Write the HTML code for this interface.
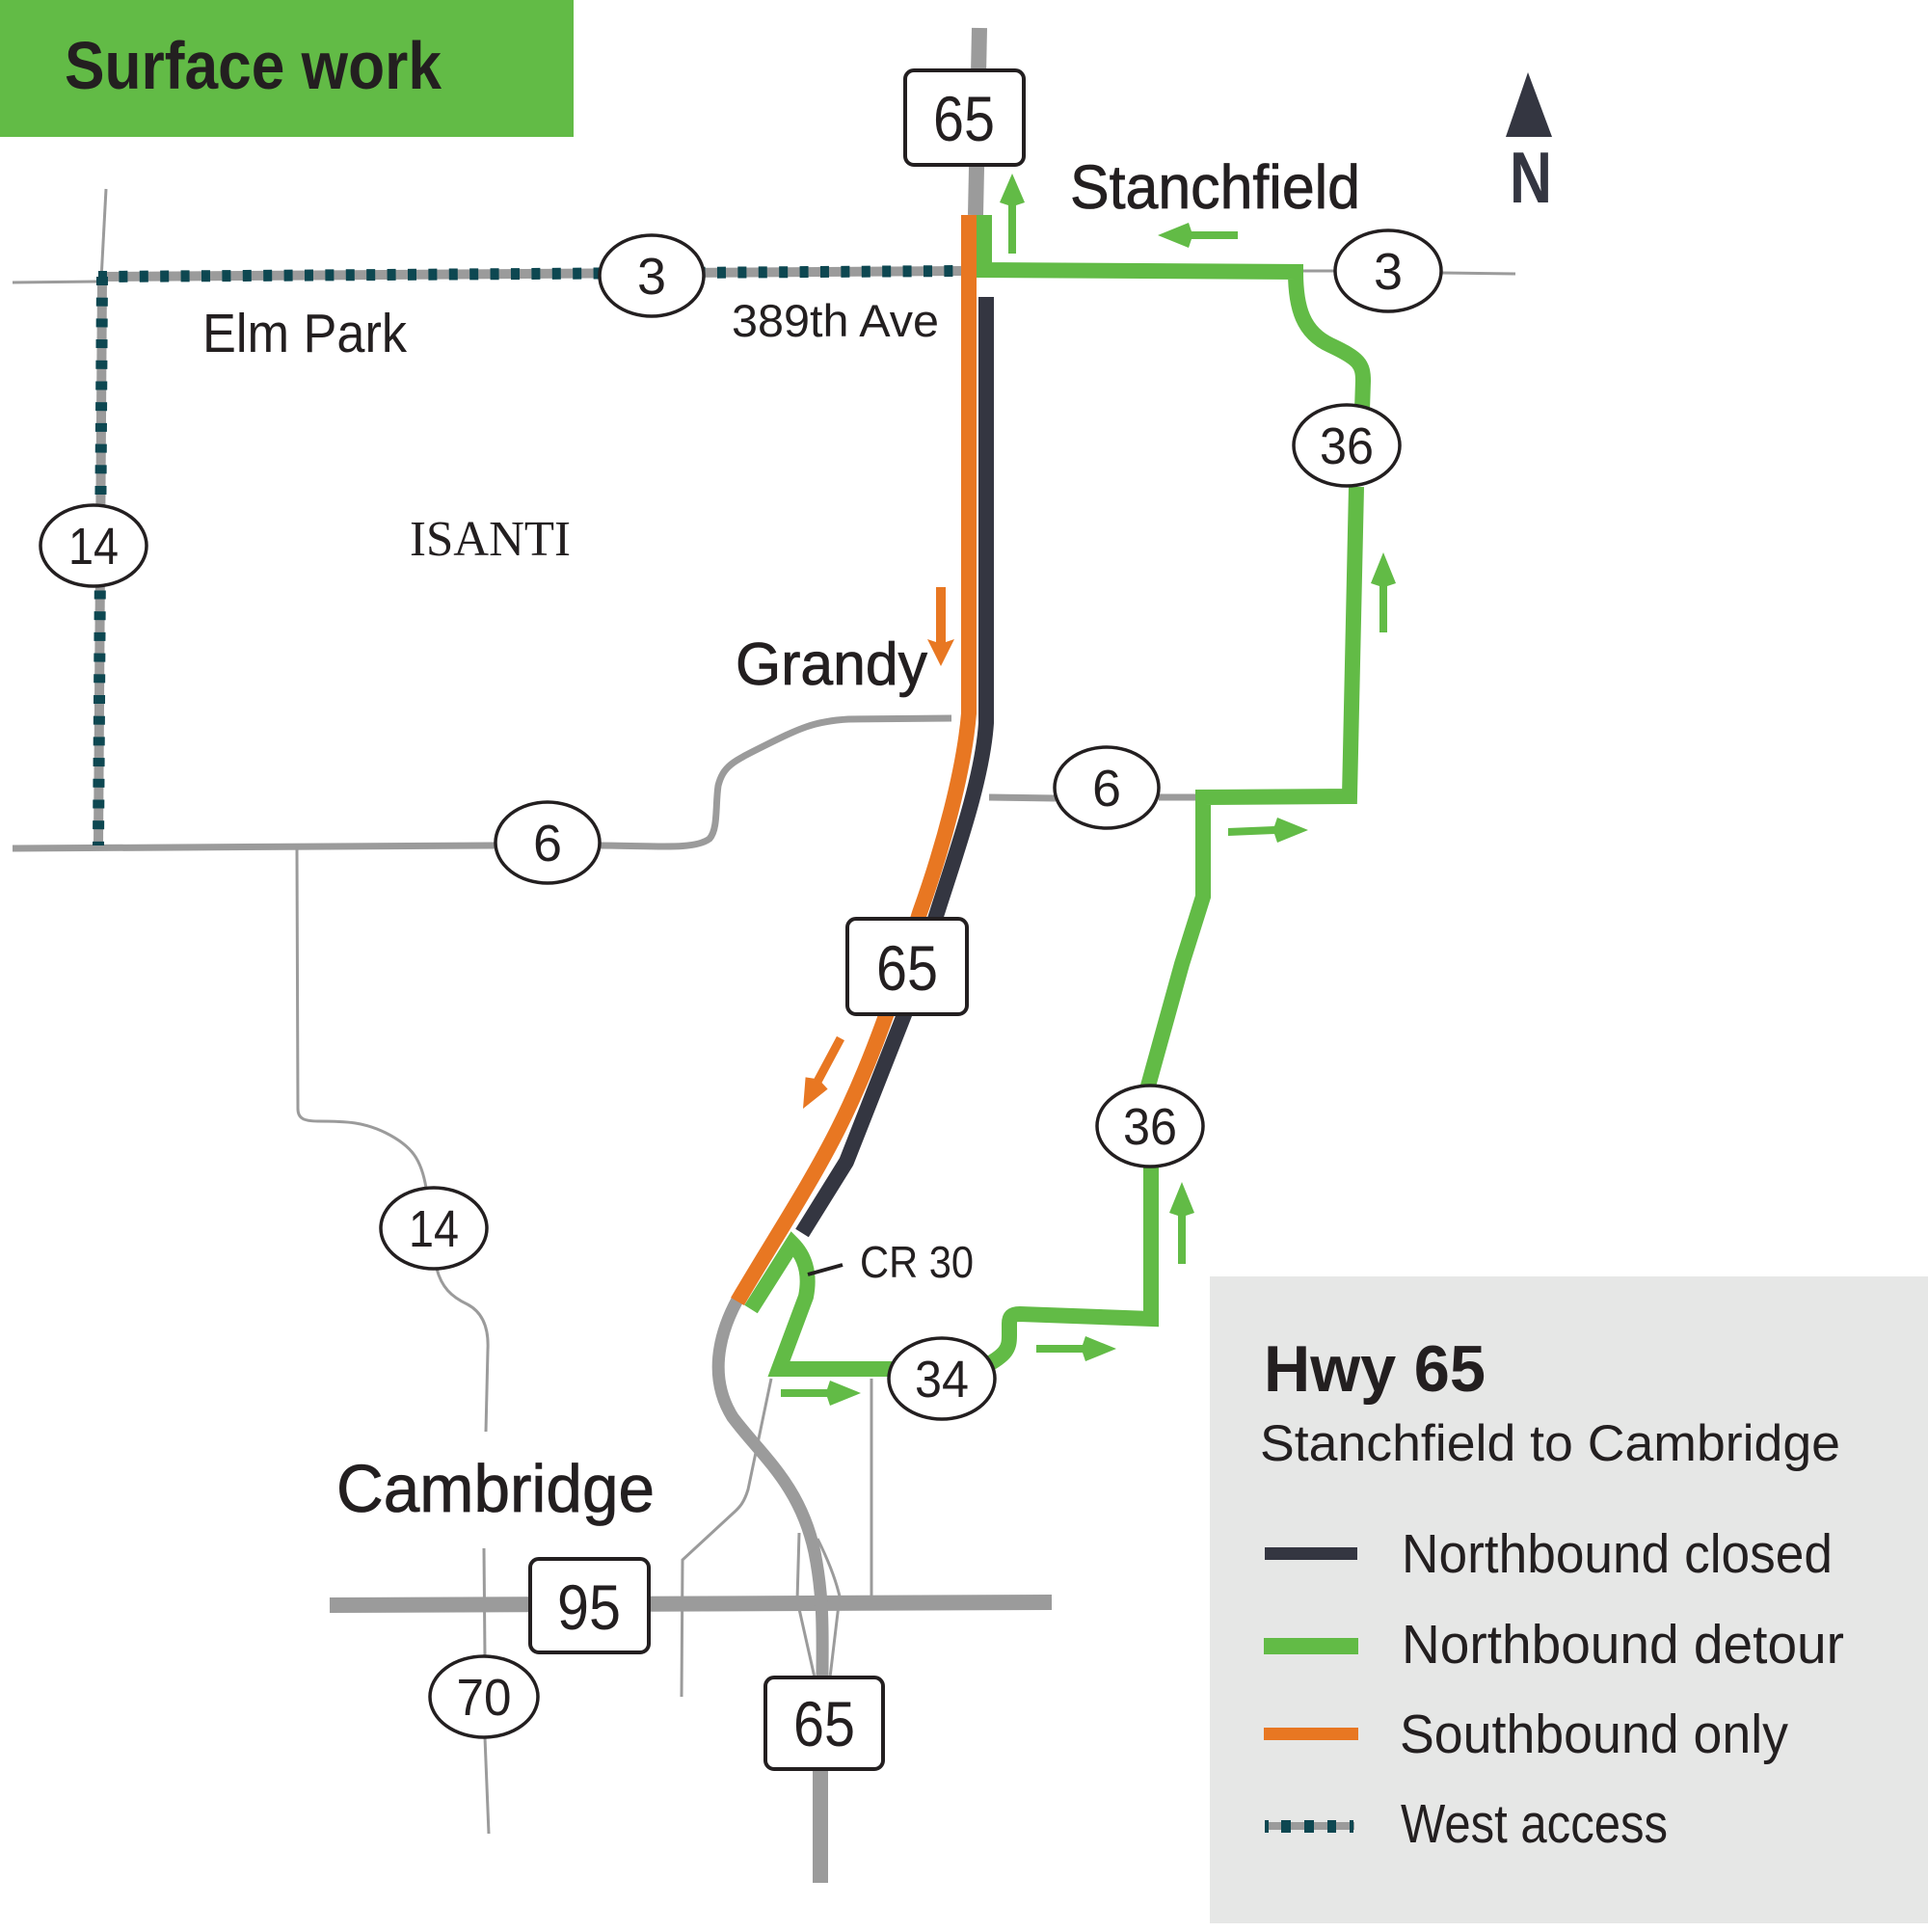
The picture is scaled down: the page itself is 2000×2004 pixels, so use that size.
<!DOCTYPE html>
<html><head><meta charset="utf-8"><style>
html,body{margin:0;padding:0;background:#fff;}
svg{display:block;}
text{font-family:"Liberation Sans",sans-serif;fill:#231f20;}
</style></head><body>
<svg width="2000" height="2004" viewBox="0 0 2000 2004" xmlns="http://www.w3.org/2000/svg">
<rect width="2000" height="2004" fill="#fff"/>

<!-- header -->
<rect x="0" y="0" width="595" height="142" fill="#62bb46"/>
<text x="67" y="92" font-size="70" font-weight="bold" textLength="391" lengthAdjust="spacingAndGlyphs">Surface work</text>

<!-- legend background -->
<rect x="1255" y="1324" width="745" height="671" fill="#e6e7e6"/>

<!-- thin gray roads -->
<g fill="none" stroke="#9b9b9b" stroke-width="3">
  <path d="M110 196 L105 290"/>
  <path d="M13 293 L102 292"/>
  <path d="M308 880 L309 1150 C309 1160 315 1163 330 1163 C360 1163 378 1164 400 1175 C428 1189 437 1203 442 1232"/>
  <path d="M453 1316 C458 1335 468 1345 485 1353 C502 1362 507 1380 506 1400 L504 1485"/>
  <path d="M502 1606 L503 1718"/>
  <path d="M503 1802 L507 1902"/>
  <path d="M800 1430 L776 1545 C772 1558 768 1563 760 1570 L708 1618 L707 1760"/>
  <path d="M829 1590 L827 1660 L845 1740"/>
  <path d="M848 1596 Q865 1630 871 1656 L861 1740"/>
  <path d="M904 1430 L904 1662"/>
  <path d="M1348 281 L1385 281"/>
  <path d="M1495 283 L1572 284"/>
</g>

<!-- medium gray roads -->
<g fill="none" stroke="#9b9b9b" stroke-width="7">
  <path d="M13 880 L513 877"/>
  <path d="M622 877 C680 877 720 882 736 870 C745 860 742 835 745 815 C750 795 760 790 790 775 C830 755 845 748 880 746 L987 745"/>
  <path d="M1026 827 L1095 828"/>
  <path d="M1202 827 L1248 827"/>
</g>

<!-- thick gray highways -->
<g fill="none" stroke="#9b9b9b">
  <path d="M1016 29 L1012 223" stroke-width="16"/>
  <path d="M342 1665 L1091 1662" stroke-width="16"/>
  <path d="M851 1835 L851 1953" stroke-width="16"/>
  <path d="M765 1348 C745 1385 735 1430 760 1470 C790 1510 830 1540 845 1610 C855 1660 853 1700 853 1740" stroke-width="13"/>
</g>

<!-- west access dotted -->
<g fill="none">
  <path d="M102 287 L997 281" stroke="#9b9b9b" stroke-width="10"/>
  <path d="M102 287 L997 281" stroke="#0d4751" stroke-width="12" stroke-dasharray="9 12.4"/>
  <path d="M106 287 L102 877" stroke="#9b9b9b" stroke-width="10"/>
  <path d="M106 287 L102 877" stroke="#0d4751" stroke-width="12" stroke-dasharray="9 12.7"/>
</g>

<!-- northbound closed -->
<path d="M1023 308 L1023 750 C1019 810 990 890 972 947 L939 1050 L878 1205 L832 1279" fill="none" stroke="#343641" stroke-width="16" stroke-linejoin="round"/>

<!-- southbound only -->
<path d="M1005 223 L1005 740 C1000 800 978 880 954 947 C930 1025 905 1100 870 1170 C840 1230 800 1290 765 1350" fill="none" stroke="#e87722" stroke-width="16"/>

<!-- northbound detour -->
<g fill="none" stroke="#62bb46" stroke-width="16">
  <path d="M779 1358 L822 1290 C834 1302 841 1320 836 1345 L808 1420 L925 1420" stroke-linejoin="miter"/>
  <path d="M1020 1418 C1045 1405 1047 1398 1047 1385 L1047 1373 C1047 1365 1050 1363 1058 1363 L1194 1368 L1194 1210" stroke-linejoin="miter"/>
  <path d="M1190 1130 L1226 1000 L1248 930 L1248 827 L1400 826 L1407 505" stroke-linejoin="miter"/>
  <path d="M1413 425 L1414 395 C1414 378 1410 372 1380 358 C1352 345 1344 320 1344 282 L1021 280 L1021 223" stroke-linejoin="miter"/>
</g>

<!-- arrows -->
<g fill="#62bb46">
  <polygon points="1050,180 1063,210 1054,213 1054,263 1046,263 1046,213 1037,210"/>
  <polygon points="1435,573 1448,605 1439,608 1439,656 1431,656 1431,608 1422,605"/>
  <polygon points="1226,1226 1239,1258 1230,1261 1230,1311 1222,1311 1222,1261 1213,1258"/>
  <polygon points="1201,244 1233,231 1236,240 1284,240 1284,248 1236,248 1233,257"/>
  <polygon points="1357,861 1325,848 1322,857 1274,859 1274,867 1322,865 1325,874"/>
  <polygon points="1158,1399 1126,1386 1123,1395 1075,1395 1075,1403 1123,1403 1126,1412"/>
  <polygon points="893,1445 861,1432 858,1441 810,1441 810,1449 858,1449 861,1458"/>
</g>
<g fill="#e87722">
  <polygon points="976,691 990,663 981,666 981,609 971,609 971,666 962,663"/>
  <polygon points="833,1150 858.6,1129.6 852.5,1123 876,1079.1 868,1074.9 844.5,1118.8 835.6,1117.4"/>
</g>

<!-- CR 30 leader -->
<path d="M838 1322 L874 1312" stroke="#231f20" stroke-width="4"/>

<!-- circle shields -->
<g fill="#fff" stroke="#231f20" stroke-width="3.5">
  <ellipse cx="676" cy="286" rx="54" ry="42"/>
  <ellipse cx="1440" cy="281" rx="55" ry="42"/>
  <ellipse cx="97" cy="566" rx="55" ry="42"/>
  <ellipse cx="1397" cy="462" rx="55" ry="42"/>
  <ellipse cx="568" cy="874" rx="54" ry="42"/>
  <ellipse cx="1148" cy="817" rx="54" ry="42"/>
  <ellipse cx="1193" cy="1168" rx="55" ry="42"/>
  <ellipse cx="450" cy="1274" rx="55" ry="42"/>
  <ellipse cx="977" cy="1430" rx="55" ry="42"/>
  <ellipse cx="502" cy="1760" rx="56" ry="42"/>
</g>
<g font-size="54" text-anchor="middle">
  <text x="676" y="305">3</text>
  <text x="1440" y="300">3</text>
  <text x="97" y="585" textLength="52" lengthAdjust="spacingAndGlyphs">14</text>
  <text x="1397" y="481" textLength="56" lengthAdjust="spacingAndGlyphs">36</text>
  <text x="568" y="893">6</text>
  <text x="1148" y="836">6</text>
  <text x="1193" y="1187" textLength="56" lengthAdjust="spacingAndGlyphs">36</text>
  <text x="450" y="1293" textLength="52" lengthAdjust="spacingAndGlyphs">14</text>
  <text x="977" y="1449" textLength="56" lengthAdjust="spacingAndGlyphs">34</text>
  <text x="502" y="1779" textLength="57" lengthAdjust="spacingAndGlyphs">70</text>
</g>

<!-- box shields -->
<g fill="#fff" stroke="#231f20" stroke-width="4">
  <rect x="939" y="73" width="123" height="98" rx="9"/>
  <rect x="879" y="953" width="124" height="99" rx="9"/>
  <rect x="550" y="1617" width="123" height="97" rx="9"/>
  <rect x="794" y="1740" width="122" height="95" rx="9"/>
</g>
<g font-size="66" text-anchor="middle">
  <text x="1000" y="146" textLength="64" lengthAdjust="spacingAndGlyphs">65</text>
  <text x="941" y="1027" textLength="64" lengthAdjust="spacingAndGlyphs">65</text>
  <text x="611" y="1690" textLength="66" lengthAdjust="spacingAndGlyphs">95</text>
  <text x="855" y="1811" textLength="64" lengthAdjust="spacingAndGlyphs">65</text>
</g>

<!-- north arrow -->
<polygon points="1585,75 1610,142 1562,142" fill="#343641"/>
<text x="1566" y="210" font-size="75" font-weight="bold" style="fill:#343641" textLength="44" lengthAdjust="spacingAndGlyphs">N</text>

<!-- place labels -->
<text x="210" y="365" font-size="57" textLength="212" lengthAdjust="spacingAndGlyphs">Elm Park</text>
<text x="759" y="349" font-size="47" textLength="215" lengthAdjust="spacingAndGlyphs">389th Ave</text>
<text x="425" y="576" font-size="52" textLength="167" lengthAdjust="spacingAndGlyphs" style="font-family:'Liberation Serif',serif">ISANTI</text>
<text x="763" y="710" font-size="62" stroke="#231f20" stroke-width="0.8" textLength="199" lengthAdjust="spacingAndGlyphs">Grandy</text>
<text x="1110" y="216" font-size="64" stroke="#231f20" stroke-width="0.8" textLength="301" lengthAdjust="spacingAndGlyphs">Stanchfield</text>
<text x="892" y="1325" font-size="46" textLength="118" lengthAdjust="spacingAndGlyphs">CR 30</text>
<text x="349" y="1568" font-size="70" stroke="#231f20" stroke-width="0.8" textLength="330" lengthAdjust="spacingAndGlyphs">Cambridge</text>

<!-- legend -->
<text x="1311" y="1443" font-size="68" font-weight="bold" textLength="230" lengthAdjust="spacingAndGlyphs">Hwy 65</text>
<text x="1307" y="1515" font-size="53" textLength="602" lengthAdjust="spacingAndGlyphs">Stanchfield to Cambridge</text>

<rect x="1312" y="1605" width="96" height="13" fill="#343641"/>
<rect x="1311" y="1699" width="98" height="17" fill="#62bb46"/>
<rect x="1311" y="1792" width="98" height="13" fill="#e87722"/>
<rect x="1312" y="1890" width="93" height="8" fill="#9b9b9b"/>
<g fill="#0d4751">
  <rect x="1312" y="1888" width="4" height="13"/>
  <rect x="1329" y="1888" width="10" height="13"/>
  <rect x="1353" y="1888" width="10" height="13"/>
  <rect x="1377" y="1888" width="9" height="13"/>
  <rect x="1400" y="1888" width="4" height="13"/>
</g>

<text x="1454" y="1631" font-size="57" textLength="447" lengthAdjust="spacingAndGlyphs">Northbound closed</text>
<text x="1454" y="1725" font-size="57" textLength="459" lengthAdjust="spacingAndGlyphs">Northbound detour</text>
<text x="1452" y="1818" font-size="57" textLength="403" lengthAdjust="spacingAndGlyphs">Southbound only</text>
<text x="1453" y="1911" font-size="57" textLength="277" lengthAdjust="spacingAndGlyphs">West access</text>
</svg>
</body></html>
